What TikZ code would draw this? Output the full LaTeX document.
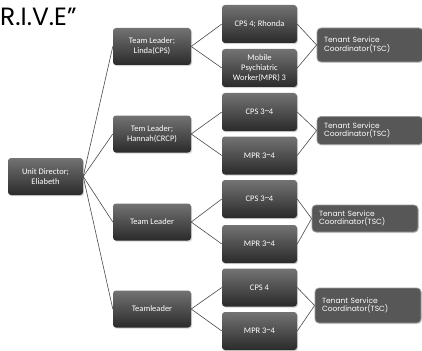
\documentclass[tikz,border=0pt]{standalone}
\usepackage{fontspec}
\setmainfont{Carlito}
\newfontfamily\geofont{Poppins}
\usetikzlibrary{shadows}
\definecolor{BoxTop}{HTML}{737373}
\definecolor{BoxBot}{HTML}{2A2A2A}
\definecolor{TscFill}{HTML}{575757}
\definecolor{TscEdge}{HTML}{9A9A9A}
\definecolor{Wire}{HTML}{4A4A4A}
\newcommand{\rng}{\raisebox{0.3ex}{\textasciitilde}}

\begin{document}
\begin{tikzpicture}[x=1pt,y=-1pt,
  unit/.style={rounded corners=3pt,top color=BoxTop,bottom color=BoxBot,draw=none,text=white,align=center,font=\fontsize{8.5}{10}\selectfont,minimum width=75pt,minimum height=37pt,inner sep=1pt,drop shadow={opacity=0.35,shadow xshift=1pt,shadow yshift=-1.2pt}},
  lead/.style={unit,minimum width=78pt},
  tsc/.style={rounded corners=4pt,fill=TscFill,draw=TscEdge,line width=0.8pt,text=white,align=left,font=\geofont\fontsize{7.5}{8.6}\selectfont,minimum width=106pt,text width=92pt,inner xsep=7pt,inner ysep=3pt,drop shadow={opacity=0.25,shadow xshift=1pt,shadow yshift=-1pt}},
  wire/.style={draw=Wire,line width=0.6pt}
]
\useasboundingbox (0,0) rectangle (422,350);
\node[anchor=base west,inner sep=0pt,font=\geofont\fontsize{25}{28}\selectfont] (title) at (0,26) {R.I.V.E”};
\node[unit] (dir) at (45.5,176.5) {Unit Director;\\Eliabeth};
\node[lead] (l1) at (152,46.5) {Team Leader;\\Linda(CPS)};
\node[lead] (l2) at (152,134) {Tem Leader;\\Hannah(CRCP)};
\node[lead] (l3) at (152,222) {Team Leader};
\node[lead] (l4) at (152,309) {Teamleader};
\node[unit,minimum height=38pt] (w1a) at (259.5,24) {CPS 4; Rhonda};
\node[unit,minimum height=38pt] (w1b) at (259.5,68) {Mobile\\Psychiatric\\Worker(MPR) 3};
\node[unit,minimum height=38pt] (w2a) at (259.5,112) {CPS 3\rng4};
\node[unit,minimum height=38pt] (w2b) at (259.5,155.5) {MPR 3\rng4};
\node[unit,minimum height=38pt] (w3a) at (259.5,199) {CPS 3\rng4};
\node[unit,minimum height=38pt] (w3b) at (259.5,244) {MPR 3\rng4};
\node[unit,minimum height=38pt] (w4a) at (259.5,287.5) {CPS 4};
\node[unit,minimum height=38pt] (w4b) at (259.5,331) {MPR 3\rng4};
\node[tsc,minimum height=34pt] (t1) at (370,45) {Tenant Service\\Coordinator(TSC)};
\node[tsc,minimum height=28pt] (t2) at (370,130.5) {Tenant Service\\Coordinator(TSC)};
\node[tsc,minimum height=27pt] (t3) at (365,218.5) {Tenant Service\\Coordinator(TSC)};
\node[tsc,minimum height=35pt] (t4) at (368,305.5) {Tenant Service\\Coordinator(TSC)};
\foreach \k in {1,2,3,4} {
  \draw[wire] (dir.east) -- (l\k.west);
  \draw[wire] (l\k.east) -- (w\k a.west);
  \draw[wire] (l\k.east) -- (w\k b.west);
  \draw[wire] (w\k a.east) -- (t\k.west);
  \draw[wire] (w\k b.east) -- (t\k.west);
}
\end{tikzpicture}
\end{document}
